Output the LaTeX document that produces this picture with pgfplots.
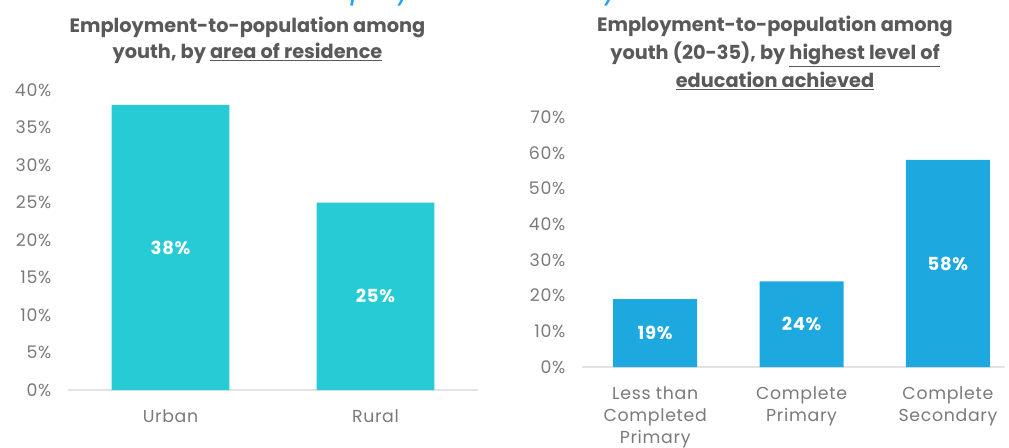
\documentclass[border=0pt]{standalone}
\usepackage{fontspec}
\setmainfont{Poppins}
\usepackage{pgfplots}
\pgfplotsset{compat=1.18}

\definecolor{barteal}{HTML}{26CBD5}
\definecolor{barblue}{HTML}{1DA8E0}
\definecolor{titlegray}{HTML}{595959}
\definecolor{tickgray}{HTML}{7A7A7A}
\definecolor{basegray}{HTML}{E3E3E3}
\definecolor{topblue}{HTML}{1AA3E8}

% 1 px of the reference = 0.75pt
\pgfplotsset{
  youthbars/.style={
    scale only axis,
    axis x line*=bottom,
    axis y line*=left,
    x axis line style={draw=basegray, line width=1pt},
    y axis line style={draw=none},
    major tick length=0pt,
    ymin=0,
    xtick=data,
    clip=false,
    /pgf/number format/assume math mode=true,
    yticklabel={\pgfmathprintnumber{\tick}\%},
    tick label style={font=\fontsize{13}{15}\selectfont\addfontfeatures{LetterSpace=4}, text=tickgray},
    yticklabel style={xshift=-9pt},
    xticklabel style={align=center, yshift=-11pt, font=\fontsize{13}{16.5}\selectfont\addfontfeatures{LetterSpace=4}},
  },
  inbar/.style={
    draw=none, mark=none,
    nodes near coords,
    point meta=explicit symbolic,
    nodes near coords align=center,
    every node near coord/.append style={text=white, font=\bfseries\fontsize{13.5}{15}\selectfont\addfontfeatures{LetterSpace=4}},
  },
}

\begin{document}
\begin{tikzpicture}
\useasboundingbox (0,0) rectangle (756.75pt,335.25pt);

% cut-off heading above the charts
\node[anchor=base west, text=topblue, inner sep=0pt,
      font=\itshape\fontsize{22}{26}\selectfont] at (157pt,336pt) {Youth employment rates by characteristics};

% left: area of residence
\node[align=center, text=titlegray, font=\bfseries\fontsize{14.5}{19.5}\selectfont] at (185.6pt,305.25pt)
  {Employment-to-population among\\youth, by \underline{area of residence}};

\begin{axis}[youthbars,
  at={(51pt,42.75pt)}, anchor=south west,
  width=307.5pt, height=225pt,
  xmin=-0.5, xmax=1.5,
  ymax=40, ytick={0,5,...,40},
  xticklabels={Urban, Rural},
]
\addplot[ybar, bar width=0.574, fill=barteal, draw=none] coordinates {(0,38) (1,25)};
\addplot[inbar] coordinates {(0,19)[38\%] (1,12.5)[25\%]};
\end{axis}

% right: highest level of education
\node[align=center, text=titlegray, font=\bfseries\fontsize{14.5}{21}\selectfont] at (581.25pt,295.5pt)
  {Employment-to-population among\\youth (20-35), by \underline{highest level of}\\\underline{education achieved}};

\begin{axis}[youthbars,
  at={(436.5pt,60pt)}, anchor=south west,
  width=317.25pt, height=187.5pt,
  xmin=-0.5, xmax=2.39,
  ymax=70, ytick={0,10,...,70},
  xticklabels={Less than\\Completed\\Primary, Complete\\Primary, Complete\\Secondary},
]
\addplot[ybar, bar width=0.574, fill=barblue, draw=none] coordinates {(0,19) (1,24) (2,58)};
\addplot[inbar] coordinates {(0,9.5)[19\%] (1,12)[24\%] (2,29)[58\%]};
\end{axis}
\end{tikzpicture}
\end{document}
